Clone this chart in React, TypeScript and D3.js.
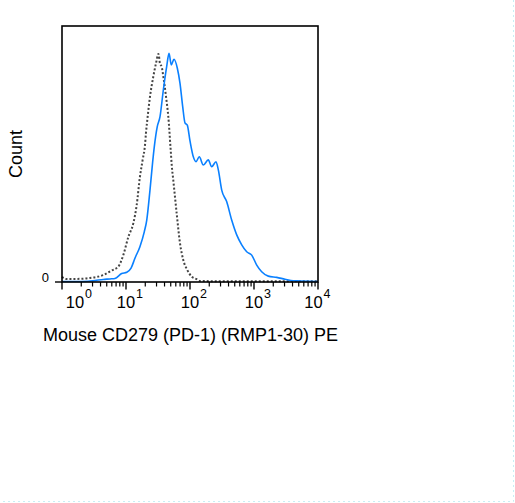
import * as d3 from "d3";
import { useEffect, useRef } from "react";

// intensity (PE, linear units) and count (% of full scale)
const blueIntensity = [
  1, 1.6, 2.55, 3.28, 4.42, 5.62, 6.73, 8.57, 10.3, 12.0, 13.8, 16.5, 19.3,
  21.1, 23.7, 26.1, 27.7, 30.8, 34.0, 38.3, 43.2, 47.0, 51.0, 56.2, 63.4, 69.8,
  76.9, 83.5, 90.7, 100, 112.7, 124, 139.7, 161.4, 193, 218, 255, 277, 313, 374,
  448, 537, 643, 769, 921, 1103, 1318, 1671, 2264, 3050, 4110, 5230, 10000,
];
const blueCount = [
  0.2, 0.2, 0.3, 0.6, 1.0, 1.2, 1.4, 3.3, 3.8, 5.4, 9.3, 13.8, 19.6, 24.2, 35.9,
  46.9, 52.9, 60.7, 64.6, 75.0, 84.1, 89.3, 84.8, 87.0, 83.5, 77.6, 68.5, 62.2,
  61.3, 55.1, 48.9, 47.0, 48.9, 45.7, 47.7, 45.0, 47.0, 43.8, 35.9, 31.4, 24.2,
  18.4, 14.5, 11.8, 10.5, 6.6, 4.0, 2.3, 1.8, 1.1, 0.5, 0.4, 0.2,
];

const isotypeIntensity = [
  1, 1.15, 1.5, 2.05, 2.74, 3.52, 4.42, 5.98, 7.58, 9.07, 10.9, 13.0, 14.7,
  16.5, 18.2, 19.8, 20.5, 21.8, 23.7, 26.7, 29.4, 32.2, 34.0, 36.1, 38.3, 42.2,
  45.8, 49.9, 51.8, 54.8, 61.9, 69.8, 78.5, 90.7, 106.4, 127, 143, 294, 10000,
];
const isotypeCount = [
  2.0, 1.2, 1.2, 1.25, 1.6, 2.0, 2.7, 4.5, 6.0, 10.5, 17.7, 22.9, 30.1, 41.1,
  47.7, 53.5, 58.1, 64.6, 72.4, 80.2, 85.4, 89.1, 85.2, 84.1, 80.2, 72.4, 64.6,
  51.6, 45.7, 39.8, 26.8, 15.1, 8.6, 4.7, 2.1, 1.1, 0.4, 0.3, 0.3,
];

const decades = [0, 1, 2, 3, 4];
const minorSteps = [2, 3, 4, 5, 6, 7, 8, 9];
const yTicks = [0];

const xLabel = "Mouse CD279 (PD-1) (RMP1-30) PE";
const yLabel = "Count";

const COLORS = {
  blue: "#0a80ff",
  isotype: "#444444",
  text: "#000000",
  border: "#c8eef4",
};

const WIDTH = 515;
const HEIGHT = 503;
const margin = { top: 26, right: 197, bottom: 221, left: 62 };
const FONT = "Liberation Sans, Arial, sans-serif";

type Pt = { v: number; c: number };

function zip(xs: number[], ys: number[]): Pt[] {
  return xs.map((v, i) => ({ v, c: ys[i] }));
}

const App = () => {
  const svgRef = useRef<SVGSVGElement | null>(null);

  useEffect(() => {
    if (!svgRef.current) return;
    const svg = d3.select(svgRef.current);
    svg.selectAll("*").remove();

    const x = d3
      .scaleLog()
      .domain([1, 1e4])
      .range([margin.left, WIDTH - margin.right]);
    const y = d3
      .scaleLinear()
      .domain([0, 100])
      .range([HEIGHT - margin.bottom, margin.top]);

    const line = d3
      .line<Pt>()
      .x((d) => x(d.v))
      .y((d) => y(d.c))
      .curve(d3.curveMonotoneX);

    // faint picture border
    svg
      .append("path")
      .attr("d", `M${WIDTH - 1.5},0V${HEIGHT - 1.5}H0`)
      .attr("fill", "none")
      .attr("stroke", COLORS.border)
      .attr("stroke-width", 1)
      .attr("stroke-dasharray", "2,3");

    const y0 = y(0);

    // isotype (dotted)
    svg
      .append("path")
      .datum(zip(isotypeIntensity, isotypeCount))
      .attr("d", line)
      .attr("fill", "none")
      .attr("stroke", COLORS.isotype)
      .attr("stroke-width", 2)
      .attr("stroke-dasharray", "2,2");

    // stained
    svg
      .append("path")
      .datum(zip(blueIntensity, blueCount))
      .attr("d", line)
      .attr("fill", "none")
      .attr("stroke", COLORS.blue)
      .attr("stroke-width", 1.6);

    // frame
    svg
      .append("rect")
      .attr("x", x(1))
      .attr("y", y(100))
      .attr("width", x(1e4) - x(1))
      .attr("height", y0 - y(100))
      .attr("fill", "none")
      .attr("stroke", "#000")
      .attr("stroke-width", 1.6);

    // x ticks
    const minor = decades
      .slice(0, -1)
      .flatMap((d) => minorSteps.map((k) => k * Math.pow(10, d)));
    svg
      .append("g")
      .selectAll("line.minor")
      .data(minor)
      .join("line")
      .attr("x1", (d) => x(d))
      .attr("x2", (d) => x(d))
      .attr("y1", y0)
      .attr("y2", y0 + 4.5)
      .attr("stroke", "#000")
      .attr("stroke-width", 1.2);

    svg
      .append("g")
      .selectAll("line.major")
      .data(decades)
      .join("line")
      .attr("x1", (d) => x(Math.pow(10, d)))
      .attr("x2", (d) => x(Math.pow(10, d)))
      .attr("y1", y0)
      .attr("y2", y0 + 7.5)
      .attr("stroke", "#000")
      .attr("stroke-width", 1.4);

    // tick labels: "10" with a superscript exponent, edge labels nudged inward
    const nudge = (d: number) => (d === 0 ? 13 : d === 4 ? -4.5 : 0);
    const labels = svg
      .append("g")
      .attr("font-family", FONT)
      .attr("fill", COLORS.text)
      .selectAll("g")
      .data(decades)
      .join("g")
      .attr(
        "transform",
        (d) => `translate(${x(Math.pow(10, d)) + nudge(d)},${y0 + 26})`
      );
    labels
      .append("text")
      .attr("text-anchor", "middle")
      .attr("font-size", 16.5)
      .text("10");
    labels
      .append("text")
      .attr("x", 10)
      .attr("y", -10)
      .attr("font-size", 12.5)
      .text((d) => d);

    // y tick
    svg
      .append("g")
      .selectAll("line")
      .data(yTicks)
      .join("line")
      .attr("x1", x(1) - 7)
      .attr("x2", x(1))
      .attr("y1", (d) => y(d))
      .attr("y2", (d) => y(d))
      .attr("stroke", "#000")
      .attr("stroke-width", 1.4);
    svg
      .append("g")
      .selectAll("text")
      .data(yTicks)
      .join("text")
      .attr("x", x(1) - 13)
      .attr("y", (d) => y(d) - 0.5)
      .attr("text-anchor", "end")
      .attr("font-family", FONT)
      .attr("font-size", 13)
      .text((d) => d);

    // axis titles
    svg
      .append("text")
      .attr("x", 43)
      .attr("y", y0 + 59)
      .attr("font-family", FONT)
      .attr("font-size", 18)
      .attr("fill", COLORS.text)
      .text(xLabel);

    svg
      .append("text")
      .attr("transform", `translate(22,${(y(100) + y0) / 2}) rotate(-90)`)
      .attr("text-anchor", "middle")
      .attr("font-family", FONT)
      .attr("font-size", 18)
      .attr("fill", COLORS.text)
      .text(yLabel);
  }, []);

  return (
    <svg
      ref={svgRef}
      width={WIDTH}
      height={HEIGHT}
      style={{ position: "fixed", left: 0, top: 0, background: "#fff" }}
    />
  );
};

export default App;
